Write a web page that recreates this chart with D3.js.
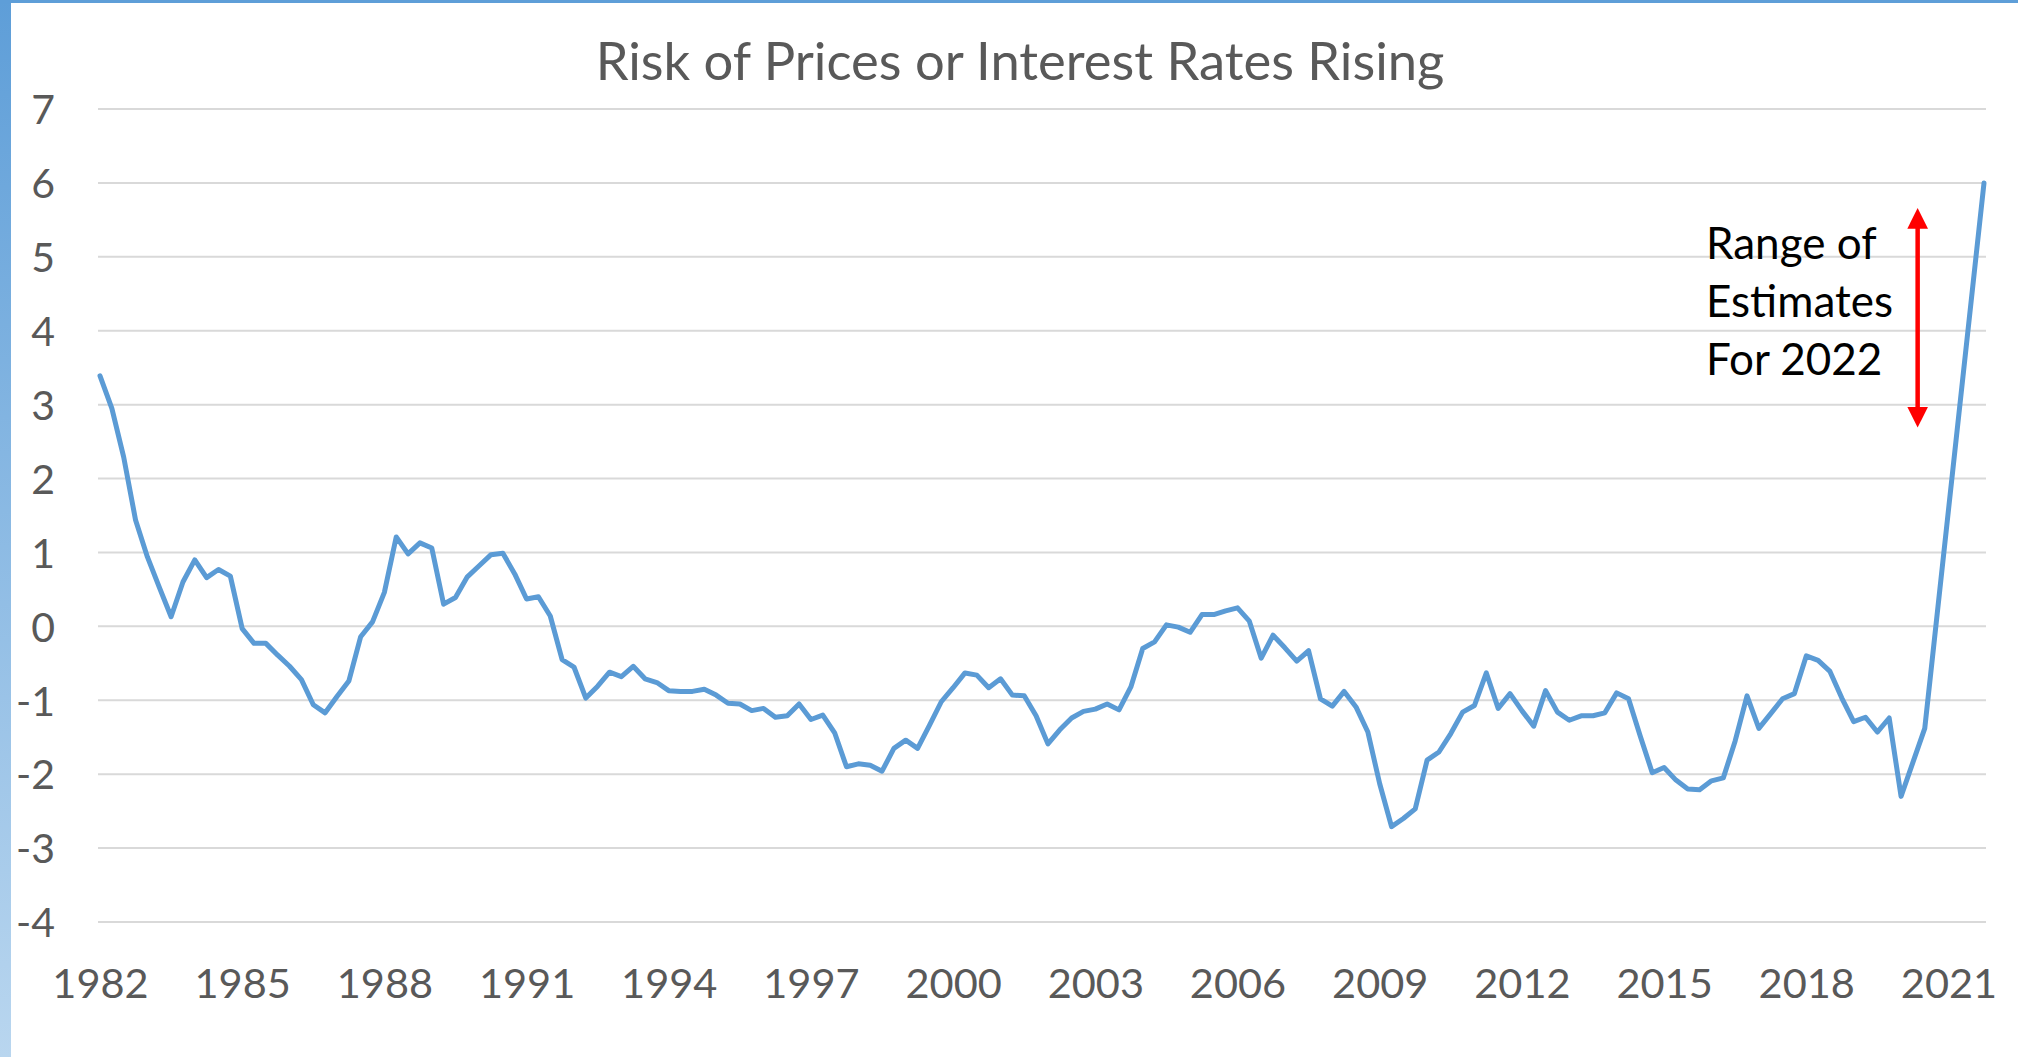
<!DOCTYPE html>
<html>
<head>
<meta charset="utf-8">
<script src="https://cdn.jsdelivr.net/npm/d3@7"></script>
<style>
    body { margin: 0; background: #fff; }
    svg { display: block; font-family: Lato, "Open Sans", sans-serif; }
</style>
</head>
<body>
<script>
// quarterly readings, 1982 Q1 .. 2020 Q3
const startYear = 1982;
const quarterlyValues = [
    3.39, 2.95, 2.29, 1.44, 0.94, 0.53, 0.13, 0.60, 0.90, 0.66,
    0.77, 0.68, -0.03, -0.23, -0.23, -0.39, -0.54, -0.72, -1.06, -1.17,
    -0.95, -0.74, -0.14, 0.06, 0.46, 1.21, 0.98, 1.13, 1.06, 0.30,
    0.39, 0.67, 0.82, 0.97, 0.99, 0.71, 0.37, 0.40, 0.14, -0.45,
    -0.55, -0.97, -0.81, -0.62, -0.68, -0.54, -0.71, -0.76, -0.87, -0.88,
    -0.88, -0.85, -0.93, -1.04, -1.05, -1.14, -1.11, -1.23, -1.21, -1.05,
    -1.26, -1.20, -1.44, -1.90, -1.86, -1.88, -1.96, -1.65, -1.54, -1.65,
    -1.34, -1.02, -0.83, -0.63, -0.66, -0.83, -0.71, -0.93, -0.94, -1.21,
    -1.59, -1.40, -1.24, -1.15, -1.12, -1.05, -1.13, -0.82, -0.30, -0.21,
    0.02, -0.01, -0.08, 0.16, 0.16, 0.21, 0.25, 0.07, -0.43, -0.12,
    -0.29, -0.47, -0.33, -0.98, -1.08, -0.88, -1.09, -1.43, -2.13, -2.71,
    -2.60, -2.47, -1.81, -1.70, -1.45, -1.16, -1.07, -0.63, -1.11, -0.91,
    -1.14, -1.35, -0.87, -1.16, -1.27, -1.21, -1.21, -1.17, -0.90, -0.98,
    -1.49, -1.98, -1.91, -2.08, -2.20, -2.21, -2.09, -2.05, -1.55, -0.94,
    -1.38, -1.18, -0.98, -0.91, -0.40, -0.46, -0.61, -0.97, -1.29, -1.23,
    -1.43, -1.24, -2.30, -1.84, -1.38
];
// last plotted point
const latestYear = 2021;
const latestQuarter = 4;
const latestValue = 6.0;

const tickYears = [1982, 1985, 1988, 1991, 1994, 1997, 2000, 2003, 2006, 2009, 2012, 2015, 2018, 2021];
const yTicks = [-4, -3, -2, -1, 0, 1, 2, 3, 4, 5, 6, 7];

const titleText = "Risk of Prices or Interest Rates Rising";
const noteLines = ["Range of", "Estimates", "For 2022"];
const estimateRange = [2.67, 5.68];

const width = 2018, height = 1057;

const qIndex = (year, q) => (year - startYear) * 4 + (q - 1);

const points = quarterlyValues.map((v, i) => ({ i: i, v: v }));
points.push({ i: qIndex(latestYear, latestQuarter), v: latestValue });

const svg = d3.select("body").append("svg")
    .attr("width", width)
    .attr("height", height);

const defs = svg.append("defs");
const grad = defs.append("linearGradient")
    .attr("id", "edge")
    .attr("x1", 0).attr("y1", 0).attr("x2", 0).attr("y2", 1);
grad.append("stop").attr("offset", "0%").attr("stop-color", "#5e9ed8");
grad.append("stop").attr("offset", "100%").attr("stop-color", "#b9d6ef");

defs.append("marker")
    .attr("id", "head")
    .attr("viewBox", "0 0 10 10")
    .attr("refX", 2).attr("refY", 5)
    .attr("markerWidth", 4.6).attr("markerHeight", 4.6)
    .attr("markerUnits", "strokeWidth")
    .attr("orient", "auto-start-reverse")
    .append("path")
    .attr("d", "M0,0 L10,5 L0,10 z")
    .attr("fill", "#ff0000");

// frame
svg.append("rect")
    .attr("x", 0).attr("y", 0)
    .attr("width", 11).attr("height", height)
    .attr("fill", "url(#edge)");
svg.append("rect")
    .attr("x", 0).attr("y", 0)
    .attr("width", width).attr("height", 3)
    .attr("fill", "#5e9ed8");

// scales
const x = d3.scaleLinear()
    .domain([0, qIndex(latestYear, latestQuarter)])
    .range([100, 1984]);

const y = d3.scaleLinear()
    .domain([-4, 7])
    .range([922, 109]);

// gridlines
svg.append("g")
    .selectAll("line")
    .data(yTicks)
    .enter().append("line")
    .attr("x1", 98)
    .attr("x2", 1986)
    .attr("y1", d => y(d))
    .attr("y2", d => y(d))
    .attr("stroke", "#d9d9d9")
    .attr("stroke-width", 2);

// y axis labels
const yAxis = svg.append("g")
    .attr("transform", "translate(55,0)")
    .call(d3.axisLeft(y).tickValues(yTicks).tickFormat(d => String(d)).tickSize(0).tickPadding(0));
yAxis.select(".domain").remove();
yAxis.selectAll("text")
    .attr("font-family", "Lato, sans-serif")
    .attr("font-size", 41)
    .attr("fill", "#595959")
    .attr("dy", "0.36em");

// x axis labels
const xAxis = svg.append("g")
    .attr("transform", "translate(0,998)")
    .call(d3.axisBottom(x)
        .tickValues(tickYears.map(yr => qIndex(yr, 1)))
        .tickFormat((d, i) => tickYears[i])
        .tickSize(0).tickPadding(0));
xAxis.select(".domain").remove();
xAxis.selectAll("text")
    .attr("font-family", "Lato, sans-serif")
    .attr("font-size", 41.5)
    .attr("fill", "#595959")
    .attr("dy", 0);

// the series
const line = d3.line()
    .x(d => x(d.i))
    .y(d => y(d.v));

svg.append("path")
    .datum(points)
    .attr("fill", "none")
    .attr("stroke", "#5b9bd5")
    .attr("stroke-width", 5)
    .attr("stroke-linejoin", "round")
    .attr("stroke-linecap", "round")
    .attr("d", line);

// title
svg.append("text")
    .attr("x", 1020)
    .attr("y", 80)
    .attr("text-anchor", "middle")
    .attr("font-size", 52.5)
    .attr("fill", "#595959")
    .text(titleText);

// annotation
const arrowX = x(153.4);
svg.append("line")
    .attr("x1", arrowX).attr("x2", arrowX)
    .attr("y1", y(estimateRange[0]) - 18)
    .attr("y2", y(estimateRange[1]) + 18)
    .attr("stroke", "#ff0000")
    .attr("stroke-width", 4.5)
    .attr("marker-start", "url(#head)")
    .attr("marker-end", "url(#head)");

svg.append("g")
    .selectAll("text")
    .data(noteLines)
    .enter().append("text")
    .attr("x", 1706)
    .attr("y", (d, i) => 259 + i * 58)
    .attr("font-size", 44)
    .attr("fill", "#000")
    .text(d => d);
</script>
</body>
</html>
